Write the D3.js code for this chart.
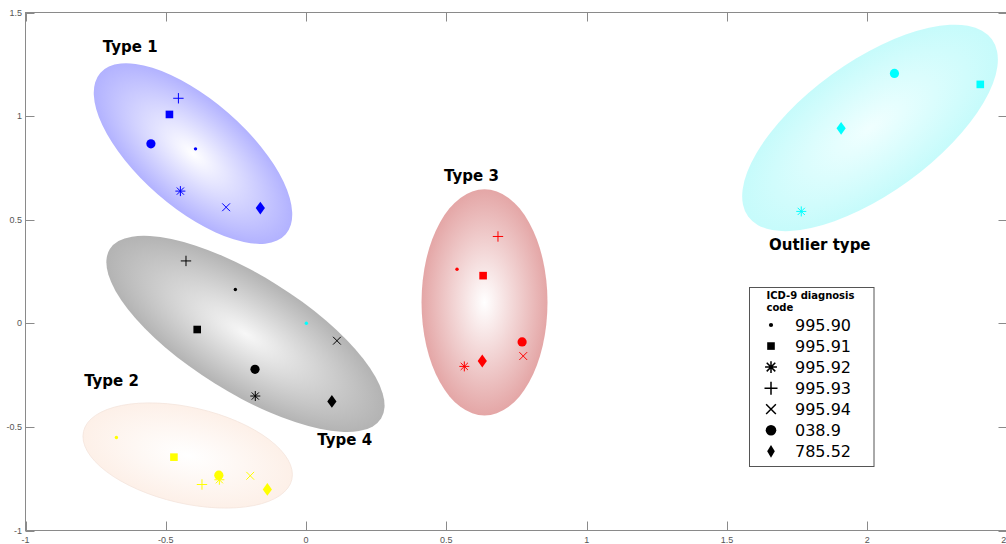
<!DOCTYPE html>
<html><head><meta charset="utf-8">
<script src="https://cdn.jsdelivr.net/npm/d3@7"></script>
<style>body{margin:0;background:#fff;} svg{display:block;}</style>
</head><body>
<svg id="chart" width="1006" height="544"></svg>
<script>
// ---------- DATA ----------
const codes   = ["995.90","995.91","995.92","995.93","995.94","038.9","785.52"];
const markers = ["dot","square","asterisk","plus","times","circle","diamond"];
const groups  = ["Type 1","Type 2","Type 3","Type 4","Outlier type"];
const groupColors = ["#0000ff","#ffff00","#ff0000","#000000","#00ffff"];

// coordinates per ICD-9 code (order as in codes), null = absent
const type1X = [-0.394,-0.487,-0.448,-0.455,-0.285,-0.553,-0.163];
const type1Y = [ 0.842, 1.008, 0.638, 1.086, 0.560, 0.866, 0.556];
const type2X = [-0.676,-0.471,-0.309,-0.371,-0.199,-0.311,-0.138];
const type2Y = [-0.551,-0.646,-0.755,-0.778,-0.736,-0.733,-0.802];
const type3X = [ 0.538, 0.631, 0.564, 0.684, 0.774, 0.770, 0.628];
const type3Y = [ 0.261, 0.230,-0.208, 0.419,-0.158,-0.090,-0.182];
const type4X = [-0.252,-0.388,-0.181,-0.428, 0.110,-0.182, 0.092];
const type4Y = [ 0.163,-0.030,-0.351, 0.301,-0.084,-0.222,-0.377];
const outX   = [ 0.001, 2.403, 1.765, null,  null,  2.097, 1.907];
const outY   = [ 0.000, 1.153, 0.540, null,  null,  1.206, 0.941];
const groupX = [type1X,type2X,type3X,type4X,outX];
const groupY = [type1Y,type2Y,type3Y,type4Y,outY];

// cluster ellipses (center in data units, semi-axes in x-data units, screen angle deg)
const ellCX    = [-0.403,-0.422, 0.636,-0.216, 2.010];
const ellCY    = [ 0.819,-0.638, 0.101,-0.051, 0.943];
const ellA     = [ 0.438, 0.381, 0.2245,0.570, 0.537];
const ellB     = [ 0.192, 0.171, 0.403, 0.208, 0.234];
const ellAngle = [ 41,    13,    0,     32,   -36];
const ellInner = ["#ffffff","#ffffff","#ffffff","#f7f7f7","#f0ffff"];
const ellOuter = ["#b2b2ff","#fdf0e8","#e4a6a6","#b3b3b3","#c6fbfb"];

// group label anchor (left, baseline) in data units
const labelX = [-0.7245,-0.791, 0.492, 0.040, 1.650];
const labelY = [ 1.311, -0.304, 0.685,-0.585, 0.353];

const xTicks = [-1,-0.5,0,0.5,1,1.5,2,2.5];
const yTicks = [-1,-0.5,0,0.5,1,1.5];
const legendTitle = ["ICD-9 diagnosis","code"];

// ---------- CHART ----------
const svg = d3.select("#chart");
const x = d3.scaleLinear().domain([-1,2.5]).range([25.5,1007.5]);
const y = d3.scaleLinear().domain([-1,1.5]).range([530.5,12.5]);
const kx = x(1)-x(0);

const defs = svg.append("defs");
ellCX.forEach((_,i)=>{
  const g = defs.append("radialGradient").attr("id","eg"+i);
  g.append("stop").attr("offset","0%").attr("stop-color",ellInner[i]);
  g.append("stop").attr("offset","100%").attr("stop-color",ellOuter[i]);
});

// ellipses (draw order)
const ellOrder = [1,0,2,4,3];
svg.append("g").selectAll("ellipse").data(ellOrder).join("ellipse")
  .attr("cx",0).attr("cy",0)
  .attr("rx",i=>ellA[i]*kx).attr("ry",i=>ellB[i]*kx)
  .attr("transform",i=>`translate(${x(ellCX[i])},${y(ellCY[i])}) rotate(${ellAngle[i]})`)
  .attr("fill",i=>`url(#eg${i})`)
  .attr("stroke",i=> i===1 ? "#f5e6dd" : "none")
  .attr("stroke-width",0.8);

// axes frame
const frame = svg.append("g").attr("stroke","#8a8a8a").attr("fill","none").attr("stroke-width",1);
frame.append("rect").attr("x",x(-1)).attr("y",y(1.5)).attr("width",x(2.5)-x(-1)).attr("height",y(-1)-y(1.5));
const tl = 9;
xTicks.forEach(t=>{
  frame.append("line").attr("x1",Math.round(x(t))+0.5).attr("x2",Math.round(x(t))+0.5).attr("y1",y(-1)).attr("y2",y(-1)-tl);
  frame.append("line").attr("x1",Math.round(x(t))+0.5).attr("x2",Math.round(x(t))+0.5).attr("y1",y(1.5)).attr("y2",y(1.5)+tl);
});
yTicks.forEach(t=>{
  frame.append("line").attr("y1",Math.round(y(t))+0.5).attr("y2",Math.round(y(t))+0.5).attr("x1",x(-1)).attr("x2",x(-1)+tl);
  frame.append("line").attr("y1",Math.round(y(t))+0.5).attr("y2",Math.round(y(t))+0.5).attr("x1",x(2.5)).attr("x2",x(2.5)-tl);
});
const tickFont = {family:"'Liberation Sans', Arial, sans-serif", size:9, color:"#555"};
svg.append("g").selectAll("text").data(xTicks).join("text")
  .attr("x",d=>x(d)).attr("y",543).attr("text-anchor","middle")
  .attr("font-family",tickFont.family).attr("font-size",tickFont.size).attr("fill",tickFont.color)
  .text(d=>String(d));
svg.append("g").selectAll("text").data(yTicks).join("text")
  .attr("x",22).attr("y",d=>y(d)+3).attr("text-anchor","end")
  .attr("font-family",tickFont.family).attr("font-size",tickFont.size).attr("fill",tickFont.color)
  .text(d=>String(d));

// marker drawing
function drawMarker(g, type, cx, cy, color, legend){
  const L = legend ? 1.25 : 1;
  const sw = legend ? 1.5 : 1;
  switch(type){
    case "dot":
      g.append("circle").attr("cx",cx).attr("cy",cy).attr("r",legend?2.1:1.7).attr("fill",color); break;
    case "square": {
      const s = 7.6;
      g.append("rect").attr("x",cx-s/2).attr("y",cy-s/2).attr("width",s).attr("height",s).attr("fill",color); break;
    }
    case "circle":
      g.append("circle").attr("cx",cx).attr("cy",cy).attr("r",legend?5.3:4.6).attr("fill",color); break;
    case "diamond": {
      const w = legend?3.8:4.6, h = 6.4;
      g.append("path").attr("d",`M${cx},${cy-h}L${cx+w},${cy}L${cx},${cy+h}L${cx-w},${cy}Z`).attr("fill",color); break;
    }
    case "plus": {
      const r = 5.2*L;
      g.append("path").attr("d",`M${cx-r},${cy}H${cx+r}M${cx},${cy-r}V${cy+r}`).attr("stroke",color).attr("stroke-width",sw).attr("fill","none"); break;
    }
    case "times": {
      const r = 3.9*L;
      g.append("path").attr("d",`M${cx-r},${cy-r}L${cx+r},${cy+r}M${cx-r},${cy+r}L${cx+r},${cy-r}`).attr("stroke",color).attr("stroke-width",sw).attr("fill","none"); break;
    }
    case "asterisk": {
      const r = 5*L*(legend?0.95:1), d = r*0.72;
      g.append("path").attr("d",`M${cx-r},${cy}H${cx+r}M${cx},${cy-r}V${cy+r}M${cx-d},${cy-d}L${cx+d},${cy+d}M${cx-d},${cy+d}L${cx+d},${cy-d}`)
        .attr("stroke",color).attr("stroke-width",sw).attr("fill","none"); break;
    }
  }
}

const pts = svg.append("g");
groups.forEach((gname,gi)=>{
  groupX[gi].forEach((vx,ci)=>{
    const vy = groupY[gi][ci];
    if(vx===null || vy===null) return;
    drawMarker(pts, markers[ci], x(vx), y(vy), groupColors[gi], false);
  });
});

// group labels
svg.append("g").selectAll("text").data(groups).join("text")
  .attr("x",(d,i)=>x(labelX[i])).attr("y",(d,i)=>y(labelY[i]))
  .attr("font-family","'DejaVu Sans', Verdana, sans-serif").attr("font-weight","bold")
  .attr("font-size",15).attr("fill","#000").text(d=>d);

// legend
const lg = svg.append("g");
lg.append("rect").attr("x",749.5).attr("y",287.5).attr("width",124.5).attr("height",179)
  .attr("fill","#fff").attr("stroke","#555").attr("stroke-width",1);
legendTitle.forEach((t,i)=>{
  lg.append("text").attr("x",766.5).attr("y",299+i*12)
    .attr("font-family","'DejaVu Sans', Verdana, sans-serif").attr("font-weight","bold")
    .attr("font-size",10).attr("fill","#000").text(t);
});
codes.forEach((c,i)=>{
  const by = 331 + i*21.05;
  drawMarker(lg, markers[i], 771, by-6, "#000", true);
  lg.append("text").attr("x",795).attr("y",by)
    .attr("font-family","'DejaVu Sans', Verdana, sans-serif")
    .attr("font-size",16).attr("fill","#000").text(c);
});
</script>
</body></html>
